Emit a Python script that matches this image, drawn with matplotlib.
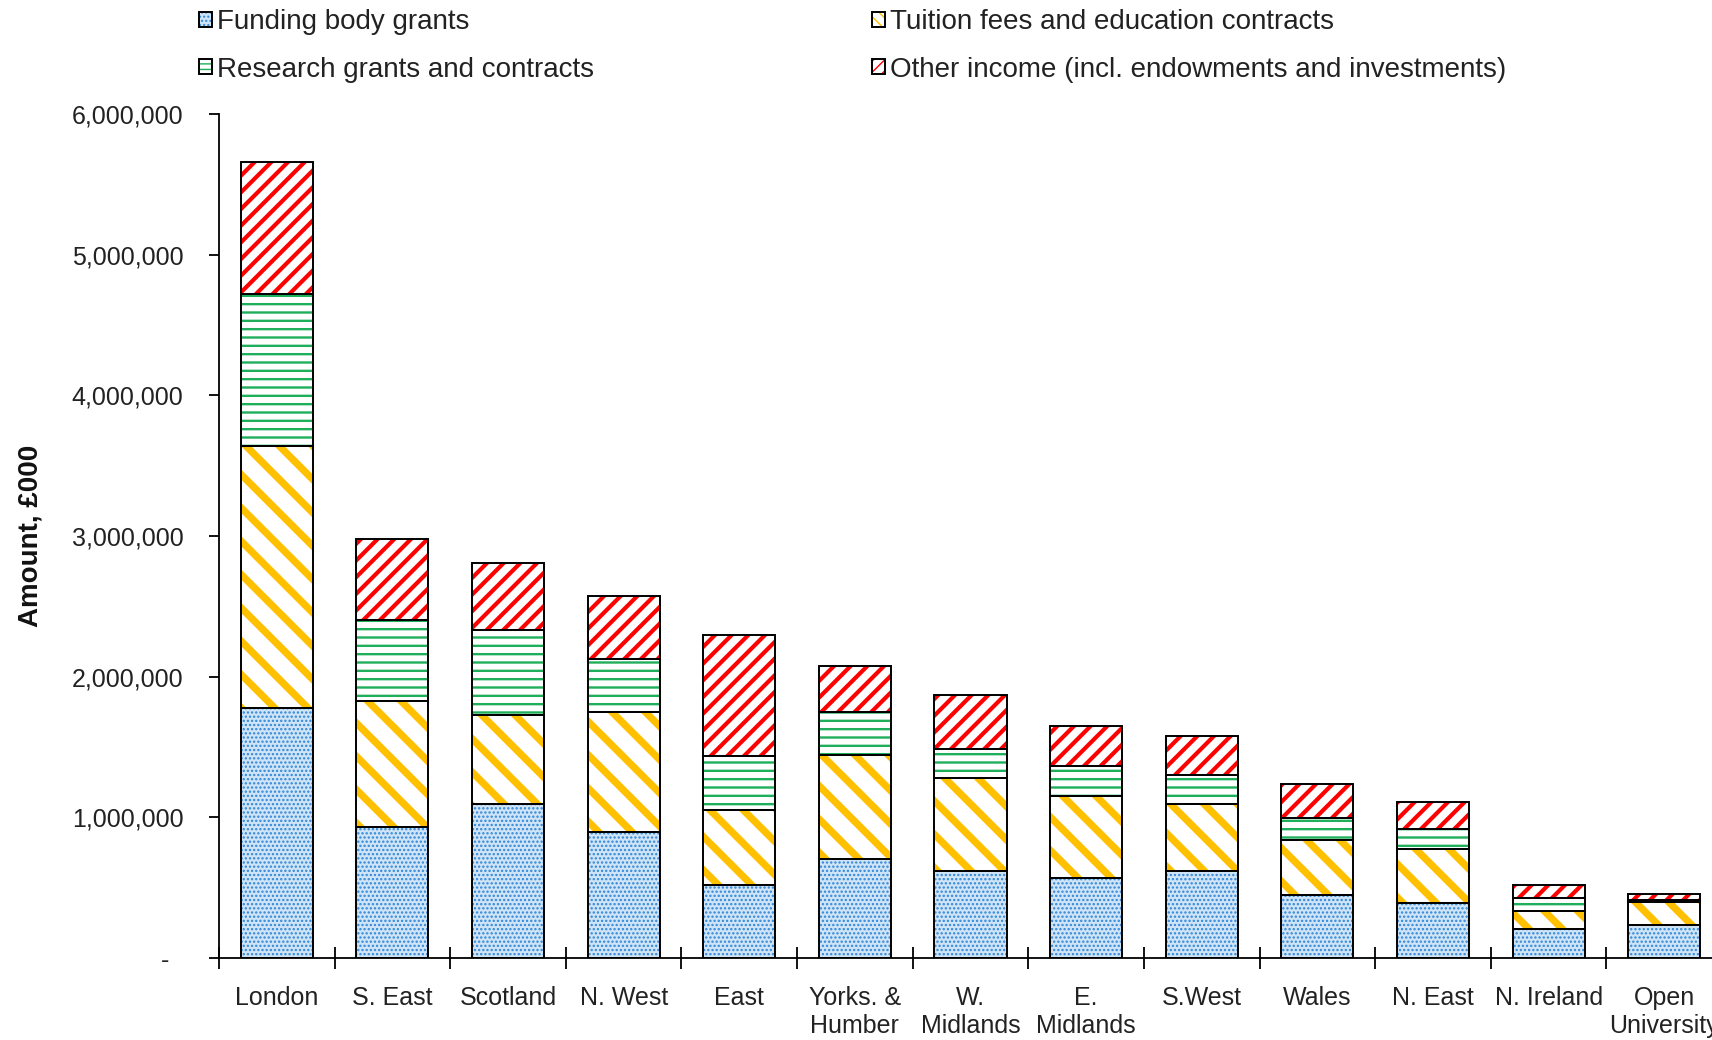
import matplotlib
matplotlib.use('Agg')
import matplotlib.pyplot as plt
from matplotlib.patches import Patch
import numpy as np

plt.rcParams['font.family'] = ['Liberation Sans', 'DejaVu Sans']

categories = ['London', 'S. East', 'Scotland', 'N. West', 'East', 'Yorks. &\nHumber',
              'W.\nMidlands', 'E.\nMidlands', 'S.West', 'Wales', 'N. East', 'N. Ireland',
              'Open\nUniversity']
funding = [1775000, 930000, 1093000, 899000, 519000, 705000, 620000, 566000, 620000,
           450000, 388000, 206000, 235000]
tuition = [1868000, 900000, 636000, 853000, 535000, 737000, 659000, 589000, 473000,
           387000, 387000, 128000, 161000]
research = [1077000, 573000, 604000, 372000, 380000, 310000, 209000, 209000, 209000,
            155000, 140000, 90000, 16000]
other = [940000, 574000, 473000, 450000, 861000, 326000, 380000, 287000, 279000,
         248000, 194000, 95000, 41000]
series_names = ['Funding body grants', 'Tuition fees and education contracts',
                'Research grants and contracts',
                'Other income (incl. endowments and investments)']
yticks = [0, 1000000, 2000000, 3000000, 4000000, 5000000, 6000000]
ytick_labels = ['-  ', '1,000,000', '2,000,000', '3,000,000', '4,000,000',
                '5,000,000', '6,000,000']

W, H = 1712, 1040
fig = plt.figure(figsize=(W / 100, H / 100), dpi=100)
ax_left, ax_right = 219 / W, 1722 / W
ax_bottom, ax_top = (H - 958) / H, (H - 114) / H
ax = fig.add_axes([ax_left, ax_bottom, ax_right - ax_left, ax_top - ax_bottom])

styles = [
    dict(face='#cfe4f7', hatch='....', hc='#2f86d6', hlw=1.1, lhatch='....'),
    dict(face='white', hatch='\\', hc='#FFC000', hlw=5.2, lhatch='\\\\\\'),
    dict(face='white', hatch='--', hc='#1fae5a', hlw=1.7, lhatch='---'),
    dict(face='white', hatch='//', hc='#FF0000', hlw=3.0, lhatch='///'),
]

x = np.arange(len(categories))
width = 0.623
bottom = np.zeros(len(categories))
for vals, st in zip([funding, tuition, research, other], styles):
    vals = np.array(vals, dtype=float)
    with plt.rc_context({'hatch.linewidth': st['hlw']}):
        hb = ax.bar(x, vals, width, bottom=bottom, color=st['face'],
                    edgecolor=st['hc'], hatch=st['hatch'], linewidth=0, zorder=2)
        for p in hb:
            if hasattr(p, 'set_hatch_linewidth'):
                p.set_hatch_linewidth(st['hlw'])
    ax.bar(x, vals, width, bottom=bottom, fill=False, edgecolor='black',
           linewidth=1.4, zorder=3)
    bottom += vals

# legend proxies
handles = []
for st in styles:
    lw = min(st['hlw'], 2.2)
    with plt.rc_context({'hatch.linewidth': lw}):
        hp = Patch(facecolor=st['face'], edgecolor=st['hc'], hatch=st['lhatch'], linewidth=0)
        if hasattr(hp, 'set_hatch_linewidth'):
            hp.set_hatch_linewidth(lw)
    ep = Patch(fill=False, edgecolor='black', linewidth=1.4)
    handles.append((hp, ep))

ax.set_xlim(-0.5, len(categories) - 0.5)
ax.set_ylim(0, 6000000)
ax.set_yticks(yticks)
ax.set_yticklabels(ytick_labels)
ax.set_xticks(x)
ax.set_xticklabels(categories, linespacing=1.22)
ax.set_xticks(np.arange(-0.5, len(categories), 1.0), minor=True)
ax.tick_params(axis='x', which='major', length=0, pad=20, labelsize=18, labelcolor='#222222')
ax.tick_params(axis='x', which='minor', direction='inout', length=16, width=1.3)
ax.tick_params(axis='y', direction='out', length=7, width=1.3, pad=18.5, labelsize=18,
               labelcolor='#222222')
for s in ['top', 'right']:
    ax.spines[s].set_visible(False)
for s in ['left', 'bottom']:
    ax.spines[s].set_linewidth(1.3)
    ax.spines[s].set_color('black')

ax.set_ylabel('Amount, £000', fontsize=20, fontweight='bold', color='#111111')
ax.yaxis.set_label_coords((44 - 219) / (1722 - 219), 0.5)

leg_kw = dict(frameon=False, borderpad=0, borderaxespad=0, handlelength=0.45,
              handleheight=0.45, handletextpad=0.2, labelspacing=0.78, fontsize=20,
              loc='center left')
leg1 = fig.legend(handles=[handles[0], handles[2]], labels=[series_names[0], series_names[2]],
                  bbox_to_anchor=(199 / W, 1 - 46 / H), **leg_kw)
leg2 = fig.legend(handles=[handles[1], handles[3]], labels=[series_names[1], series_names[3]],
                  bbox_to_anchor=(872 / W, 1 - 46 / H), **leg_kw)
for leg in (leg1, leg2):
    for t in leg.get_texts():
        t.set_color('#222222')

fig.savefig('out.png', dpi=100)
